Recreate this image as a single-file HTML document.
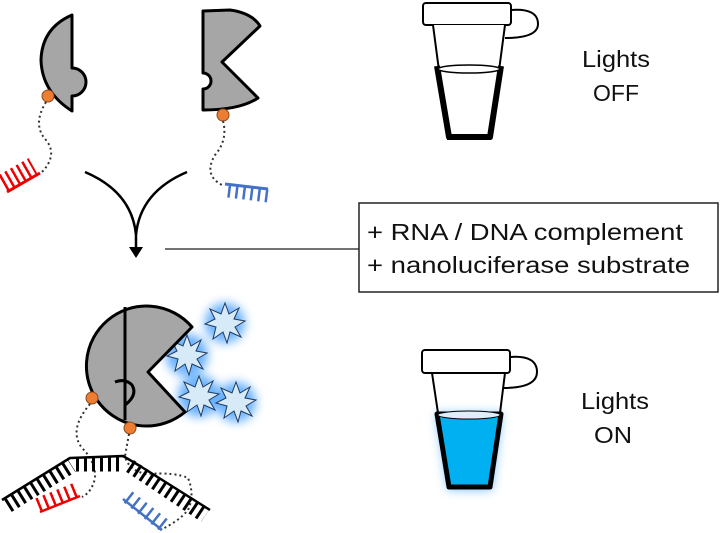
<!DOCTYPE html>
<html><head><meta charset="utf-8"><style>
html,body{margin:0;padding:0;background:#fff;width:720px;height:533px;overflow:hidden}
svg{display:block}
text{font-family:"Liberation Sans",sans-serif;fill:#111}
</style></head><body>
<svg width="720" height="533" viewBox="0 0 720 533" xmlns="http://www.w3.org/2000/svg">
<defs>
<filter id="glow" x="-50%" y="-50%" width="200%" height="200%"><feGaussianBlur stdDeviation="5"/></filter>
<g id="star"><path d="M0,-20 L4,-9 L14,-15 L9,-4 L20,-2 L10,4 L16,14 L5,9 L2,20 L-2,9 L-12,16 L-9,4 L-20,1 L-10,-4 L-15,-14 L-4,-9 Z" fill="#d6eaf8" stroke="#1f3a5a" stroke-width="1"/></g>
</defs>

<!-- top left half-piece -->
<path d="M72,15 L72,68 A9,9 0 0 1 72,96 L72,111 Q42,92 41,60 Q42,28 72,15 Z" fill="#a6a6a6" stroke="#000" stroke-width="3" stroke-linejoin="round"/>
<circle cx="48" cy="96" r="6" fill="#ed7d31" stroke="#8a4a1a" stroke-width="1"/>
<path d="M46,102 Q32,125 46,140 Q58,155 42,172" fill="none" stroke="#333" stroke-width="2" stroke-dasharray="2 3"/>
<path d="M7,192 L40,173" stroke="#e00" stroke-width="3" fill="none"/>
<path d="M3,183 L33,166" stroke="#e00" stroke-width="18" stroke-dasharray="2.5 4" fill="none"/>

<!-- top right piece -->
<path d="M203,11 L230,10 Q252,13 260,26 L222,62 L258,98 Q240,110 203,110 L203,89 A8,8 0 0 0 203,73 Z" fill="#a6a6a6" stroke="#000" stroke-width="3" stroke-linejoin="round"/>
<circle cx="223" cy="115" r="6" fill="#ed7d31" stroke="#8a4a1a" stroke-width="1"/>
<path d="M223,121 Q228,140 215,155 Q203,175 222,185" fill="none" stroke="#333" stroke-width="2" stroke-dasharray="2 3"/>
<path d="M225,184 L268,189" stroke="#4472c4" stroke-width="3" fill="none"/>
<path d="M228,191 L268,196" stroke="#4472c4" stroke-width="13" stroke-dasharray="2.5 5" fill="none"/>

<!-- merge arrow -->
<path d="M85,172 Q132,192 136,235 M187,172 Q140,192 136,235 L136,250" fill="none" stroke="#000" stroke-width="2.5"/>
<path d="M129,247 L143,247 L136,258 Z" fill="#000"/>
<line x1="165" y1="249" x2="359" y2="249" stroke="#444" stroke-width="1.5"/>

<!-- box -->
<rect x="359" y="203" width="359" height="89" fill="#fff" stroke="#222" stroke-width="1.5"/>
<text x="367" y="240" font-size="23" textLength="316" lengthAdjust="spacingAndGlyphs">+ RNA / DNA complement</text>
<text x="367" y="273" font-size="23" textLength="323" lengthAdjust="spacingAndGlyphs">+ nanoluciferase substrate</text>

<!-- tube 1 -->
<path d="M511,10 Q538,8 538,24 Q538,38 505,38" fill="none" stroke="#000" stroke-width="2"/>
<rect x="423" y="3" width="88" height="22" rx="3" fill="#fff" stroke="#000" stroke-width="2"/>
<path d="M433,25 L448,139 L490,139 L505,25" fill="#fff" stroke="#000" stroke-width="2"/>
<path d="M437,66 L449,137 L490,137 L501,66" fill="none" stroke="#000" stroke-width="6" stroke-linejoin="round"/>
<ellipse cx="469" cy="69" rx="31" ry="4" fill="#fff" stroke="#000" stroke-width="1.5"/>
<text x="582" y="67" font-size="23" textLength="68" lengthAdjust="spacingAndGlyphs">Lights</text>
<text x="593" y="101" font-size="23" textLength="46" lengthAdjust="spacingAndGlyphs">OFF</text>

<!-- tube 2 -->
<path d="M436,413 L502,413 L492,490 L448,490 Z" fill="#5ab4ff" filter="url(#glow)" opacity="0.8"/>
<path d="M510,357 Q537,355 537,372 Q537,388 503,388" fill="none" stroke="#000" stroke-width="2"/>
<rect x="422" y="350" width="88" height="23" rx="3" fill="#fff" stroke="#000" stroke-width="2"/>
<path d="M432,373 L438,413 M505,373 L500,413" fill="none" stroke="#000" stroke-width="2"/>
<path d="M437,414 L449,487 L490,487 L501,414 Z" fill="#00b0f0" stroke="#000" stroke-width="5" stroke-linejoin="round"/>
<ellipse cx="469" cy="415" rx="31" ry="4" fill="#e0eefa" stroke="#000" stroke-width="1"/>
<text x="581" y="409" font-size="23" textLength="68" lengthAdjust="spacingAndGlyphs">Lights</text>
<text x="594" y="443" font-size="23" textLength="38" lengthAdjust="spacingAndGlyphs">ON</text>

<!-- stars glow -->
<g filter="url(#glow)" fill="#4da3ff" opacity="0.85">
<circle cx="225" cy="323" r="20"/><circle cx="187" cy="355" r="21"/><circle cx="199" cy="396" r="21"/><circle cx="236" cy="402" r="20"/>
</g>
<use href="#star" x="225" y="323"/><use href="#star" x="187" y="355"/><use href="#star" x="199" y="396"/><use href="#star" x="236" y="402"/>

<!-- bottom pacman -->
<path d="M192,327 A60,60 0 1 0 185,412 L148,372 Z" fill="#a6a6a6" stroke="#000" stroke-width="3" stroke-linejoin="round"/>
<path d="M125,307 L125,420" stroke="#000" stroke-width="3"/>
<path d="M115,382 Q125,378 132,385 Q138,395 125,405" fill="none" stroke="#000" stroke-width="3"/>
<circle cx="92" cy="398" r="6" fill="#ed7d31" stroke="#8a4a1a" stroke-width="1"/>
<circle cx="130" cy="428" r="6" fill="#ed7d31" stroke="#8a4a1a" stroke-width="1"/>
<path d="M90,404 Q68,430 82,448 Q96,462 95,478 Q92,492 82,497" fill="none" stroke="#333" stroke-width="2" stroke-dasharray="2 3"/>
<path d="M129,434 L125,456 Q128,470 146,474 Q175,472 188,478 Q195,495 188,510 Q178,522 160,530" fill="none" stroke="#333" stroke-width="2" stroke-dasharray="2 3"/>

<!-- DNA strand -->
<path d="M2,500 L70,458 L123,456 L140,466 L210,510" fill="none" stroke="#000" stroke-width="2.5" stroke-linejoin="round"/>
<path d="M8,506 L72,466" stroke="#000" stroke-width="14" stroke-dasharray="3 4.5" fill="none"/>
<path d="M76,464 L124,464" stroke="#000" stroke-width="15" stroke-dasharray="3 5" fill="none"/>
<path d="M130,466 L205,516" stroke="#000" stroke-width="14" stroke-dasharray="3 4.5" fill="none"/>
<!-- red comb -->
<path d="M40,512 L80,496" stroke="#e00" stroke-width="2.5" fill="none"/>
<path d="M38,505 L77,489" stroke="#e00" stroke-width="14" stroke-dasharray="2.5 5" fill="none"/>
<!-- blue comb -->
<path d="M123,499 L162,530" stroke="#4472c4" stroke-width="2.5" fill="none"/>
<path d="M128,497 L165,526" stroke="#4472c4" stroke-width="14" stroke-dasharray="2.5 6" fill="none"/>
</svg>
</body></html>
